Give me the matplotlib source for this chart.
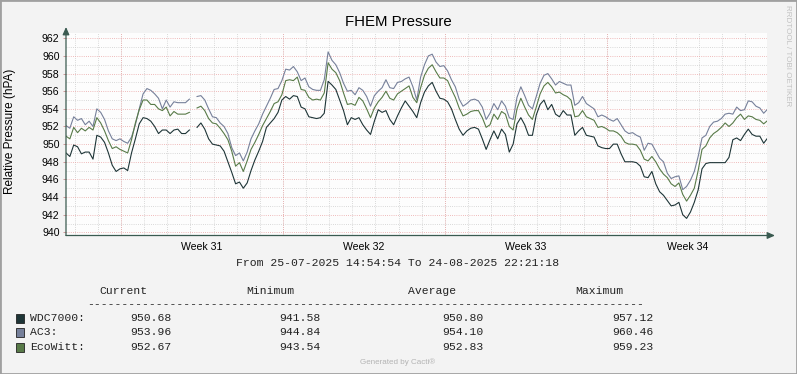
import matplotlib
matplotlib.use('Agg')
import matplotlib.pyplot as plt
import matplotlib.dates as mdates
from matplotlib.patches import Rectangle
import numpy as np
import pandas as pd

nan = np.nan

# time range of the graph, samples every 4 hours
start = '2025-07-25 14:54:54'
end = '2025-08-24 22:21:18'
step = '4h'

wdc7000 = [949.0, 948.6, 949.9, 949.7, 948.9, 949.1, 949.1, 948.3, 951.0, 950.8,
           950.2, 949.0, 947.6, 946.9, 947.2, 947.3, 947.0, 949.0, 950.6, 952.3,
           953.0, 952.9, 952.6, 952.0, 951.2, 951.6, 951.6, 951.2, 951.6, 951.7,
           951.2, 951.2, 951.6, nan, 951.9, 952.4, 951.7, 950.6, 950.0, 949.9,
           949.8, 949.2, 948.0, 946.8, 945.5, 945.7, 945.0, 945.6, 947.0, 948.2,
           949.2, 950.3, 951.9, 952.4, 952.9, 953.6, 955.0, 955.4, 955.1, 955.5,
           955.4, 954.2, 954.0, 953.1, 953.0, 952.9, 953.0, 953.5, 957.12, 956.7,
           956.2, 955.0, 953.8, 952.2, 953.0, 952.8, 953.0, 952.2, 951.6, 951.1,
           952.6, 953.9, 953.6, 953.8, 952.8, 952.2, 953.2, 954.1, 954.9, 954.3,
           953.7, 953.0, 954.7, 955.9, 956.6, 957.0, 956.0, 955.2, 955.1, 954.8,
           954.0, 952.8, 951.7, 951.0, 951.5, 951.8, 951.9, 951.7, 950.6, 949.4,
           950.5, 951.5, 950.6, 951.7, 951.1, 949.1, 950.0, 952.3, 953.0, 952.2,
           951.0, 951.0, 953.3, 954.5, 955.0, 953.9, 954.5, 953.4, 953.1, 953.8,
           953.3, 953.3, 951.0, 951.5, 951.9, 951.0, 950.9, 950.8, 949.8, 949.6,
           949.5, 949.5, 950.0, 950.0, 948.9, 948.0, 948.0, 948.0, 947.9, 947.5,
           946.3, 946.2, 946.9, 945.5, 944.6, 944.2, 943.6, 943.0, 943.1, 943.4,
           942.0, 941.58, 942.3, 943.4, 944.8, 947.2, 947.8, 947.9, 947.9, 947.9,
           947.9, 947.9, 948.5, 950.5, 950.7, 950.4, 951.1, 951.7, 951.1, 950.9,
           950.9, 950.1, 950.68]

ac3 = [952.1, 951.8, 953.1, 952.7, 952.9, 952.2, 952.6, 952.0, 954.0, 953.6,
       952.8, 951.5, 950.6, 950.4, 950.6, 950.3, 950.1, 950.8, 952.2, 954.0,
       955.7, 956.3, 956.1, 955.7, 955.2, 954.0, 955.0, 954.2, 954.8, 954.7,
       954.7, 954.7, 955.1, nan, 955.4, 955.5, 955.0, 954.0, 953.1, 953.0,
       952.4, 952.0, 951.2, 949.6, 948.7, 949.0, 948.1, 949.1, 950.6, 951.5,
       952.3, 953.4, 954.3, 955.2, 956.2, 956.3, 957.2, 958.5, 958.4, 958.8,
       958.2, 957.2, 957.5, 956.5, 956.2, 956.1, 956.1, 957.3, 960.46, 959.5,
       959.0, 958.1, 956.9, 956.0, 956.1, 955.6, 956.4, 956.1, 955.4, 954.3,
       955.5, 956.0, 956.4, 957.3, 956.4, 956.3, 957.0, 957.1, 957.4, 957.6,
       956.5, 955.0, 957.6, 959.0, 960.0, 960.2, 959.3, 958.8, 958.9, 958.3,
       957.3, 956.5, 955.1, 954.3, 954.6, 955.0, 955.1, 954.9, 954.2, 952.8,
       953.5, 954.6, 953.9, 954.9, 954.3, 953.0, 952.8, 955.3, 956.5, 955.5,
       954.4, 954.0, 955.4, 956.9, 957.8, 958.0, 957.4, 956.7, 957.1, 956.9,
       956.7, 956.7, 954.4, 954.7, 955.4, 954.6, 954.3, 954.0, 953.1, 953.3,
       953.1, 952.8, 952.6, 952.9, 952.2, 951.5, 951.2, 951.3, 951.0, 950.8,
       949.3, 950.1, 950.0, 949.2, 948.4, 948.0, 946.7, 946.1, 946.3, 946.4,
       944.84, 945.2, 945.9, 946.9, 948.6, 950.7, 951.0, 952.0, 952.5, 952.6,
       952.9, 953.4, 953.5, 953.4, 954.2, 953.8, 953.9, 954.9, 954.8, 954.3,
       954.1, 953.5, 953.96]

ecowitt = [950.9, 950.6, 951.9, 951.3, 951.8, 951.5, 951.9, 951.6, 953.0, 952.4,
           951.5, 950.4, 949.5, 949.7, 949.4, 949.2, 949.0, 950.5, 952.4, 953.9,
           955.0, 955.0, 954.5, 954.5, 954.0, 953.8, 954.2, 953.2, 953.7, 953.4,
           953.4, 953.4, 953.6, nan, 954.1, 954.3, 953.8, 952.9, 952.4, 952.3,
           951.8, 951.2, 950.5, 949.2, 947.5, 947.9, 946.9, 948.1, 949.4, 950.2,
           951.1, 952.1, 952.9, 953.7, 954.6, 954.8, 955.6, 957.2, 957.3, 957.2,
           957.6, 956.2, 956.1, 955.3, 955.0, 955.1, 955.0, 955.8, 959.23, 958.5,
           958.1, 957.2, 955.8, 954.5, 954.6, 954.4, 955.3, 954.9, 954.0, 953.0,
           954.1, 954.8, 955.3, 956.0, 955.2, 955.0, 955.7, 956.0, 956.3, 956.6,
           955.3, 954.7, 956.4, 957.8, 958.6, 959.0, 958.2, 957.5, 957.5, 957.2,
           956.2, 955.3, 954.1, 953.2, 953.4, 953.7, 953.8, 953.8, 953.0, 951.9,
           952.2, 953.4, 952.8, 953.7, 953.4, 952.0, 951.6, 954.0, 955.2, 954.2,
           953.3, 952.8, 954.2, 955.7, 956.6, 957.0, 956.5, 955.8, 955.9, 955.6,
           955.4, 955.0, 953.1, 953.2, 953.8, 953.1, 952.9, 952.7, 951.9, 952.0,
           951.8, 951.5, 951.5, 951.3, 950.9, 950.2, 950.0, 950.0, 949.9, 949.3,
           948.3, 948.1, 948.6, 948.0, 947.2, 946.6, 946.2, 945.5, 945.2, 945.6,
           944.3, 943.54, 944.2, 945.0, 947.0, 949.4, 949.8, 950.7, 951.2, 951.5,
           951.9, 952.4, 952.0, 952.4, 953.0, 953.4, 952.8, 953.2, 953.1, 952.8,
           952.7, 952.3, 952.67]

series_names = ['WDC7000:', 'AC3:', 'EcoWitt:']
series_colors = ['#1e3537', '#76809a', '#587a48']
stat_headers = ['Current', 'Minimum', 'Average', 'Maximum']
wdc7000_stats = ['950.68', '941.58', '950.80', '957.12']
ac3_stats = ['953.96', '944.84', '954.10', '960.46']
ecowitt_stats = ['952.67', '943.54', '952.83', '959.23']
week_labels = ['Week 31', 'Week 32', 'Week 33', 'Week 34']
week_mondays = ['2025-07-28', '2025-08-04', '2025-08-11', '2025-08-18']

plt.rcParams['font.family'] = ['Liberation Sans', 'DejaVu Sans']
MONO = ['Liberation Mono', 'DejaVu Sans Mono']

W, H = 797, 374
fig = plt.figure(figsize=(W / 100, H / 100), dpi=100, facecolor='#f3f3f3')


def fx(x):
    return x / W


def fy(y):
    return 1 - y / H


axis_col = '#3a5a50'
major_col = '#eba5a5'
minor_col = '#cdcdcd'

ax = fig.add_axes([fx(66), fy(235.5), 701 / W, 202.5 / H])
ax.set_facecolor('#fdfdfd')
ax.set_ylim(939.64, 962.6)
ax.set_xlim(pd.Timestamp(start), pd.Timestamp(end))

times = pd.date_range(start, periods=len(ac3), freq=step)
data = [wdc7000, ac3, ecowitt]
for vals, col in zip(data, series_colors):
    ax.plot(times, np.array(vals, dtype=float), color=col, lw=0.8, zorder=3)

# grid
ax.set_yticks(range(940, 963, 2))
ax.set_yticks(range(941, 963, 2), minor=True)
ax.xaxis.set_minor_locator(mdates.DayLocator())
dot = (0, (1, 1.6))
ax.grid(which='minor', axis='both', color=minor_col, ls=dot, lw=0.6)
ax.grid(which='major', axis='y', color=major_col, ls=dot, lw=0.6)
for m in week_mondays:
    ax.axvline(pd.Timestamp(m), color=major_col, ls=dot, lw=0.6, zorder=1)
ax.set_axisbelow(True)

mid_week = [pd.Timestamp(m) + pd.Timedelta(hours=84) for m in week_mondays]
ax.set_xticks(mid_week, week_labels)
ax.tick_params(axis='x', which='both', length=0, pad=4.5, labelsize=7.6)
ax.tick_params(axis='y', which='major', length=2.2, width=0.6, color='#c98c8c',
               pad=2.4, labelsize=7.6)
ax.tick_params(axis='y', which='minor', length=0)

for s in ax.spines.values():
    s.set_visible(False)

arrow = dict(arrowstyle='-|>,head_length=0.45,head_width=0.2', color=axis_col,
             lw=0.9, shrinkA=0, shrinkB=0, mutation_scale=10)
ax.annotate('', xy=(1 + 8 / 701, 0), xytext=(0, 0), xycoords='axes fraction',
            arrowprops=arrow, annotation_clip=False)
ax.annotate('', xy=(0, 1 + 6 / 202.5), xytext=(0, 0), xycoords='axes fraction',
            arrowprops=arrow, annotation_clip=False)

# titles
fig.text(fx(398), fy(22.5), 'FHEM Pressure', ha='center', va='center', fontsize=10.8)
fig.text(fx(10.5), fy(131), 'Relative Pressure (hPA)', rotation=90, ha='center',
         va='center', fontsize=8.5)
fig.text(fx(788), fy(56), 'RRDTOOL / TOBI OETIKER', rotation=270, ha='center',
         va='center', fontsize=5.8, color='#c2c2c2')
fig.text(fx(398), fy(262.5), 'From 25-07-2025 14:54:54 To 24-08-2025 22:21:18',
         ha='center', va='center', fontsize=8.2, family=MONO, color='#222222')

# legend table
header_x = [123.8, 270.8, 432.2, 599.8]
value_x = [171.7, 320, 483.3, 653.3]
for h, x in zip(stat_headers, header_x):
    fig.text(fx(x), fy(290.7), h, ha='center', va='center', fontsize=8.2,
             family=MONO, color='#222222')
fig.text(fx(87), fy(307.5), '-' * 81, ha='left', va='baseline', fontsize=8.2,
         family=MONO, color='#222222')

row_y = [318.3, 332.3, 346.7]
all_stats = [wdc7000_stats, ac3_stats, ecowitt_stats]
for name, col, st, y in zip(series_names, series_colors, all_stats, row_y):
    fig.add_artist(Rectangle((fx(15.5), fy(y + 5)), 8 / W, 9 / H,
                             transform=fig.transFigure, facecolor=col,
                             edgecolor='#222222', lw=0.6))
    fig.text(fx(30), fy(y), name, ha='left', va='center', fontsize=8.2,
             family=MONO, color='#222222')
    for v, x in zip(st, value_x):
        fig.text(fx(x), fy(y), v, ha='right', va='center', fontsize=8.2,
                 family=MONO, color='#222222')

fig.text(fx(398), fy(362.5), 'Generated by Cacti®', ha='center', va='center',
         fontsize=5.8, color='#b4b4b4')

fig.add_artist(Rectangle((0, 0), 1, 1, transform=fig.transFigure, fill=False,
                         edgecolor='#a0a0a0', lw=2))

fig.savefig('out.png', dpi=100, facecolor=fig.get_facecolor())
